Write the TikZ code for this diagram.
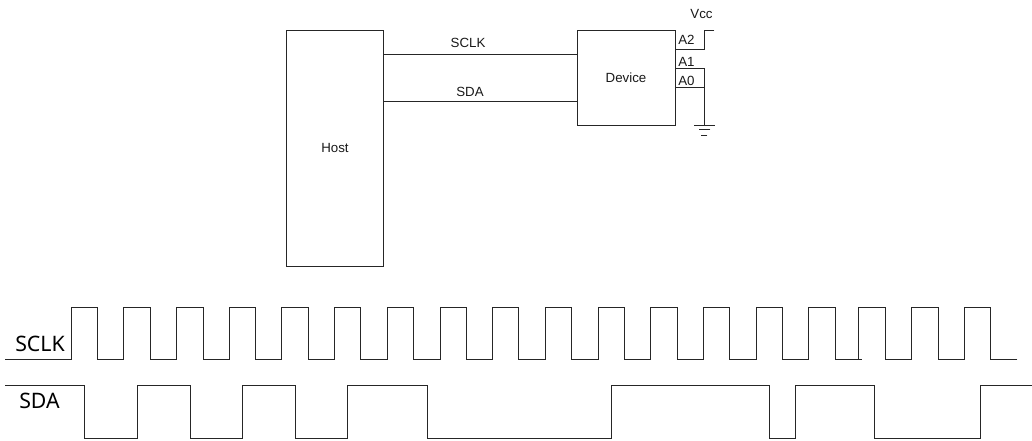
\documentclass[tikz,border=0pt]{standalone}
\usepackage{fontspec}
\setmainfont{Liberation Sans}
\newfontfamily\wavefont{Noto Sans}
\tikzset{
  x=1pt,y=-1pt,
  wire/.style={draw=black!85,line width=0.9pt,line cap=rect,line join=miter},
  block/.style={draw=black!85,line width=0.9pt,fill=none,inner sep=0pt,outer sep=0pt},
  lbl/.style={font=\fontsize{13.3}{15}\selectfont,text=black!90,inner sep=0pt,outer sep=0pt},
  wavelbl/.style={font=\wavefont\fontsize{21.3}{24}\selectfont,text=black,inner sep=0pt,outer sep=0pt},
}
\begin{document}
\begin{tikzpicture}
\useasboundingbox (0,0) rectangle (1032,440);
% blocks
\node[block,minimum width=97.5pt,minimum height=236pt] (host) at (334.75,148.5) {};
\node[block,minimum width=97.5pt,minimum height=94.5pt] (device) at (626.25,77.75) {};
\node[lbl] (hostlbl) at (335,148) {Host};
\node[lbl] (devlbl) at (626,77.5) {Device};
% bus
\coordinate (sclky) at (0,54);
\coordinate (sday) at (0,101);
\draw[wire] (host.east |- sclky) -- (device.west |- sclky);
\draw[wire] (host.east |- sday) -- (device.west |- sday);
\node[lbl] (sclklbl) at (468,43) {SCLK};
\node[lbl] (sdalbl) at (470,92) {SDA};
% address pins
\coordinate (a2y) at (0,49.5);
\coordinate (a1y) at (0,68.5);
\coordinate (a0y) at (0,87.5);
\coordinate (vccj) at (704.5,30.5);
\coordinate (vccr) at (714,30.5);
\coordinate (gnd) at (704.5,125);
\draw[wire] (device.east |- a2y) -| (vccj) -- (vccr);
\draw[wire] (device.east |- a1y) -| (gnd);
\draw[wire] (device.east |- a0y) -- (gnd |- a0y);
\coordinate (g1a) at (694,125); \coordinate (g1b) at (714.5,125);
\coordinate (g2a) at (699,129.5); \coordinate (g2b) at (710,129.5);
\coordinate (g3a) at (701.5,135); \coordinate (g3b) at (707,135);
\draw[wire] (g1a) -- (g1b);
\draw[wire] (g2a) -- (g2b);
\draw[wire] (g3a) -- (g3b);
\node[lbl] (vcc) at (701.5,13.5) {Vcc};
\node[lbl] (a2) at (686.5,40) {A2};
\node[lbl] (a1) at (686.5,62) {A1};
\node[lbl] (a0) at (686.5,81) {A0};
% waveforms
\draw[wire] (5,359.5) -| (71,307) -| (97.7,359.5) -| (123.5,307) -| (150.3,359.5) -| (176.5,307) -| (203,359.5) -| (229,307) -| (255.5,359.5) -| (281.5,307) -| (308.5,359.5) -| (334,307) -| (360.7,359.5) -| (387.3,307) -| (413.3,359.5) -| (440,307) -| (466,359.5) -| (492,307) -| (518.3,359.5) -| (545.3,307) -| (571.7,359.5) -| (598,307) -| (624.7,359.5) -| (650.7,307) -| (677.3,359.5) -| (703.3,307) -| (729.7,359.5) -| (756,307) -| (782.3,359.5) -| (808.7,307) -| (835.3,359.5) -- (861.5,359.5);
\draw[wire] (858.7,359.5) |- (885,307) |- (885,359.5) -| (911.3,307) -| (938,359.5) -| (964,307) -| (990.7,359.5) -- (1017,359.5);
\draw[wire] (5,385.7) -| (84.5,438.7) -| (137,385.7) -| (190,438.7) -| (242.7,385.7) -| (295.5,438.7) -| (347.5,385.7) -| (427,438.7) -| (611.3,385.7) -| (769.3,438.7) -| (795.7,385.7) -| (874.7,438.7) -| (980.3,385.7) -- (1032,385.7);
\node[wavelbl] (wsclk) at (40,344) {SCLK};
\node[wavelbl] (wsda) at (39.5,401) {SDA};
\end{tikzpicture}
\end{document}
